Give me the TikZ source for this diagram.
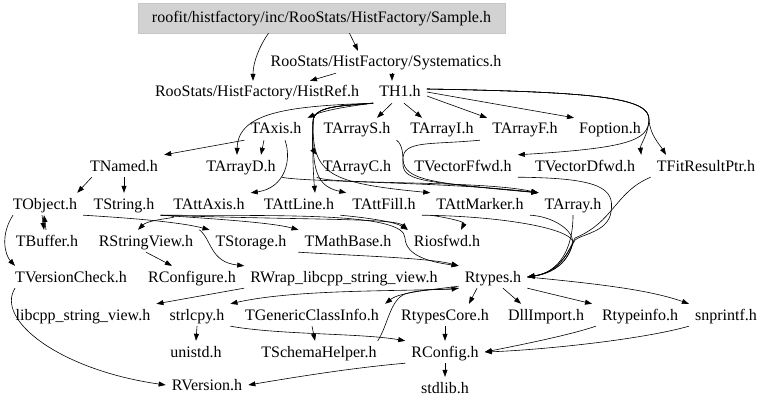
\documentclass[tikz,border=0pt]{standalone}
\usepackage{fontspec}
\setmainfont{Liberation Serif}
\usetikzlibrary{arrows.meta}

\begin{document}
\begin{tikzpicture}[
  x=1pt, y=-1pt,
  hdr/.style={inner xsep=6pt, inner ysep=0pt, minimum height=22pt, text height=10pt, text depth=0pt, font=\fontsize{16pt}{18pt}\selectfont},
  root/.style={hdr, fill=gray!35, draw=gray!45, minimum width=367pt, minimum height=30pt},
  inc/.style={-{Triangle[length=7pt,width=5pt]}, line width=0.6pt}
]
\useasboundingbox (0,0) rectangle (768,409);

\node[root] (smp) at (321.5,18) {roofit/histfactory/inc/RooStats/HistFactory/Sample.h};
\node[hdr] (sys) at (386,62) {RooStats/HistFactory/Systematics.h};
\node[hdr] (href) at (257,92) {RooStats/HistFactory/HistRef.h};
\node[hdr] (th1) at (400,92) {TH1.h};
\node[hdr] (taxis) at (276,129) {TAxis.h};
\node[hdr] (tas) at (357,129) {TArrayS.h};
\node[hdr] (tai) at (442,129) {TArrayI.h};
\node[hdr] (taf) at (525,129) {TArrayF.h};
\node[hdr] (fopt) at (610,129) {Foption.h};
\node[hdr] (tnamed) at (124,166) {TNamed.h};
\node[hdr] (tad) at (241,166) {TArrayD.h};
\node[hdr] (tac) at (357,166) {TArrayC.h};
\node[hdr] (tvff) at (463,166) {TVectorFfwd.h};
\node[hdr] (tvdf) at (585,166) {TVectorDfwd.h};
\node[hdr] (tfrp) at (706,166) {TFitResultPtr.h};
\node[hdr] (tobj) at (45,204) {TObject.h};
\node[hdr] (tstr) at (124,204) {TString.h};
\node[hdr] (taax) at (209,204) {TAttAxis.h};
\node[hdr] (taln) at (299,204) {TAttLine.h};
\node[hdr] (tafl) at (384,204) {TAttFill.h};
\node[hdr] (tamk) at (480,204) {TAttMarker.h};
\node[hdr] (tarr) at (573,204) {TArray.h};
\node[hdr] (tbuf) at (47,241) {TBuffer.h};
\node[hdr] (rsv) at (146,241) {RStringView.h};
\node[hdr] (tsto) at (251,241) {TStorage.h};
\node[hdr] (tmb) at (348,241) {TMathBase.h};
\node[hdr] (rios) at (447,241) {Riosfwd.h};
\node[hdr] (tvc) at (71,277) {TVersionCheck.h};
\node[hdr] (rcfg) at (192,277) {RConfigure.h};
\node[hdr] (rwrap) at (344,277) {RWrap\_libcpp\_string\_view.h};
\node[hdr] (rtyp) at (493,277) {Rtypes.h};
\node[hdr] (lsv) at (83,315) {libcpp\_string\_view.h};
\node[hdr] (strl) at (197,315) {strlcpy.h};
\node[hdr] (tgci) at (312,315) {TGenericClassInfo.h};
\node[hdr] (rtc) at (445,315) {RtypesCore.h};
\node[hdr] (dll) at (546,315) {DllImport.h};
\node[hdr] (rti) at (640,315) {Rtypeinfo.h};
\node[hdr] (snp) at (726,315) {snprintf.h};
\node[hdr] (unistd) at (196,352) {unistd.h};
\node[hdr] (tsh) at (319,352) {TSchemaHelper.h};
\node[hdr] (rconf) at (445,352) {RConfig.h};
\node[hdr] (rver) at (207,385) {RVersion.h};
\node[hdr] (stdl) at (445,388) {stdlib.h};

\draw[inc] ([xshift=-53pt]smp.south) .. controls (260,45) and (253,62) .. ([xshift=-4pt]href.north);
\draw[inc] ([xshift=28pt]smp.south) -- ([xshift=-28pt]sys.north);
\draw[inc] ([xshift=-50pt]sys.south) -- ([xshift=53pt]href.north);
\draw[inc] ([xshift=6pt]sys.south) -- ([xshift=-8pt]th1.north);

\draw[inc] (th1.south west) .. controls (350,106) and (325,110) .. (taxis.north east);
\draw[inc] (th1.south west) .. controls (290,106) and (238,112) .. ([xshift=-4pt]tad.north);
\draw[inc] ([xshift=-8pt]th1.south) -- ([xshift=20pt]tas.north);
\draw[inc] ([xshift=4pt]th1.south) -- ([xshift=-20pt]tai.north);
\draw[inc] ([yshift=-4pt]th1.east) -- ([xshift=-38pt]taf.north);
\draw[inc] (th1.east) -- ([xshift=-36pt]fopt.north);
\draw[inc] ([yshift=3pt]th1.east) .. controls (600,92) and (650,98) .. (649,120) .. controls (648,135) and (640,145) .. (tvdf.north east);
\draw[inc] ([yshift=3pt]th1.east) .. controls (600,92) and (650,98) .. (649,120) .. controls (650,135) and (660,145) .. ([xshift=-40pt]tfrp.north);
\draw[inc] ([yshift=3pt]th1.east) .. controls (600,92) and (650,98) .. (649,120) .. controls (648,140) and (630,148) .. (tvff.north east);
\draw[inc] (th1.south west) .. controls (340,106) and (313,106) .. (313,122) .. controls (312,140) and (313,150) .. (tac.north west);
\draw[inc] (th1.south west) .. controls (340,106) and (313,106) .. (313,122) .. controls (312,160) and (314,182) .. ([xshift=16pt]taln.north);
\draw[inc] (th1.south west) .. controls (340,106) and (313,106) .. (313,122) .. controls (312,170) and (316,186) .. (tafl.north west);
\draw[inc] (th1.south west) .. controls (340,106) and (313,106) .. (313,122) .. controls (312,175) and (330,183) .. (tamk.north west);

\draw[inc] (tas.south east) .. controls (403,145) and (403,155) .. (403,165) .. controls (404,182) and (430,182) .. (tarr.north west);
\draw[inc] (tai.south east) .. controls (430,145) and (402,140) .. (403,160) .. controls (405,180) and (430,183) .. (tarr.north west);
\draw[inc] (tac.south west) .. controls (330,185) and (480,180) .. (tarr.north west);
\draw[inc] (tad.south east) .. controls (300,182) and (450,182) .. (tarr.north west);

\draw[inc] (taxis.south west) -- (tnamed.north east);
\draw[inc] ([xshift=-12pt]taxis.south) -- ([xshift=20pt]tad.north);
\draw[inc] ([xshift=9pt]taxis.south) .. controls (292,160) and (285,188) .. (taax.north east);

\draw[inc] ([xshift=8pt]tnamed.south west) -- ([xshift=-6pt]tobj.north east);
\draw[inc] (tnamed.south) -- (tstr.north);

\draw[inc] ([xshift=-3pt]tobj.south) -- ([xshift=-3pt]tbuf.north);
\draw[inc] ([xshift=-1pt]tbuf.north) -- ([xshift=-1pt]tobj.south);
\draw[inc] ([xshift=-32pt]tobj.south) .. controls (0,235) and (5,255) .. ([xshift=-56pt]tvc.north);
\draw[inc] (tobj.south east) .. controls (130,218) and (180,222) .. (tsto.north west);

\draw[inc] (tstr.south east) .. controls (200,218) and (270,222) .. (tmb.north west);
\draw[inc] (tstr.south east) .. controls (280,216) and (405,212) .. (405,238) .. controls (406,256) and (430,262) .. (rtyp.north west);
\draw[inc] (tstr.south east) .. controls (300,220) and (395,218) .. (rios.north west);
\draw[inc] (taax.south west) .. controls (190,218) and (150,218) .. ([xshift=-8pt]rsv.north);
\draw[inc] (taln.south east) .. controls (370,218) and (395,222) .. (rios.north west);
\draw[inc] (tamk.south west) .. controls (450,218) and (465,222) .. ([xshift=14pt]rios.north);

\draw[inc] (tarr.south) .. controls (573,248) and (560,272) .. (rtyp.east);
\draw[inc] (tfrp.south west) .. controls (615,192) and (614,222) .. (575,238) .. controls (568,252) and (560,272) .. (rtyp.east);
\draw[inc] (tvff.south east) .. controls (600,178) and (615,188) .. (611,212) .. controls (608,232) and (582,234) .. (575,240) .. controls (568,252) and (560,272) .. (rtyp.east);
\draw[inc] (tafl.south east) .. controls (500,216) and (570,228) .. (573,242) .. controls (570,256) and (560,272) .. (rtyp.east);
\draw[inc] (tamk.south east) .. controls (550,216) and (572,228) .. (573,242) .. controls (570,256) and (560,272) .. (rtyp.east);
\draw[inc] (tmb.south west) .. controls (360,256) and (430,258) .. (rtyp.north west);

\draw[inc] (rsv.south) -- ([xshift=-20pt]rcfg.north);
\draw[inc] (rsv.north east) .. controls (212,240) and (210,262) .. (rwrap.north west);
\draw[inc] ([xshift=-100pt]rwrap.south) -- (lsv.north east);

\draw[inc] ([xshift=-16pt]rtyp.south) -- ([xshift=24pt]rtc.north);
\draw[inc] ([xshift=10pt]rtyp.south) -- ([xshift=-25pt]dll.north);
\draw[inc] (rtyp.south east) -- ([xshift=-48pt]rti.north);
\draw[inc] (rtyp.east) .. controls (600,284) and (650,290) .. (snp.north west);
\draw[inc] (rtyp.south west) .. controls (420,292) and (300,288) .. (strl.north east);
\draw[inc] ([yshift=2pt]rtyp.south west) .. controls (430,290) and (400,292) .. (tgci.north east);
\draw[inc] ([xshift=-5pt]tsh.north east) .. controls (388,325) and (390,300) .. (405,294) .. controls (425,288) and (445,290) .. (rtyp.south west);
\draw[inc] (tgci.south) -- ([xshift=-4pt]tsh.north);
\draw[inc] (strl.south east) .. controls (280,335) and (360,333) .. (rconf.north west);
\draw[inc] (strl.south) -- (unistd.north);
\draw[inc] (rtc.south) -- (rconf.north);
\draw[inc] (rconf.south) -- (stdl.north);
\draw[inc] (rti.south west) .. controls (570,335) and (520,345) .. (rconf.east);
\draw[inc] (snp.south west) .. controls (640,340) and (540,350) .. (rconf.east);
\draw[inc] (rconf.south west) .. controls (350,368) and (290,378) .. (rver.east);
\draw[inc] ([xshift=-56pt]tvc.south) .. controls (-5,320) and (60,370) .. (rver.west);
\end{tikzpicture}
\end{document}
